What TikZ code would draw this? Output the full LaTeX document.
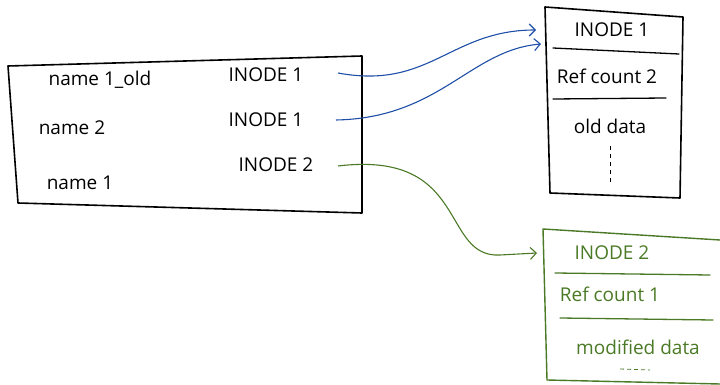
\documentclass[tikz,border=0pt]{standalone}
\usepackage{fontspec}
\setmainfont{Open Sans}
\usetikzlibrary{arrows.meta}
\definecolor{inkblue}{HTML}{1F4FA8}
\definecolor{inkgreen}{HTML}{4B7A26}
\tikzset{
  frame/.style={line width=1.6pt, line join=round, line cap=round},
  rule/.style={line width=1.3pt, line cap=round},
  lbl/.style={inner sep=0pt, font=\fontsize{19}{22}\selectfont},
  link/.style={line width=1.1pt, -{Straight Barb[length=6pt,width=12pt,line width=1.1pt]}},
}
\begin{document}
\begin{tikzpicture}[x=1pt,y=-1pt]
\useasboundingbox (0,0) rectangle (720,385);

% directory table
\draw[frame] (8,66) -- (362,56) -- (362,213) -- (18,203) -- cycle;
\node[lbl] (n1old) at (100,80) {name 1\_old};
\node[lbl] (n2) at (72,128) {name 2};
\node[lbl] (n1) at (80,183) {name 1};
\node[lbl] (i1a) at (266,75) {INODE 1};
\node[lbl] (i1b) at (266,120) {INODE 1};
\node[lbl] (i2) at (276,165) {INODE 2};
\coordinate (s1) at (338,73);
\coordinate (s2) at (336,120);
\coordinate (s3) at (338,166);

% inode 1
\draw[frame] (545,7) -- (683,17) -- (680,198) -- (550,193) -- cycle;
\draw[rule] (553,48) -- (679,54);
\draw[rule] (553,99) -- (666,98);
\node[lbl] (ina) at (612,30) {INODE 1};
\node[lbl] (rca) at (607,76) {Ref count 2};
\node[lbl] (oda) at (610,126) {old data};
\draw[line width=0.8pt, dash pattern=on 4pt off 4pt] (610,146) -- (610,182);
\coordinate (e1) at (536,30);
\coordinate (e2) at (541,44);

% inode 2
\begin{scope}[inkgreen]
\draw[line width=1.4pt, line cap=round] (720,240) -- (543,229) -- (547,380) -- (720,384);
\draw[rule] (555,273) -- (710,275);
\draw[rule] (560,318) -- (713,320);
\node[lbl] (inb) at (612,253) {INODE 2};
\node[lbl] (rcb) at (610,294) {Ref count 1};
\node[lbl] (mdb) at (638,347) {modified data};
\draw[line width=0.8pt, dash pattern=on 4pt off 3pt] (620,369) -- (650,370);
\coordinate (e3) at (537,253);
\end{scope}

% references
\draw[link, inkblue] (s1) .. controls (430,90) and (450,30) .. (e1);
\draw[link, inkblue] (s2) .. controls (440,118) and (470,50) .. (e2);
\draw[link, inkgreen] (s3) .. controls (470,150) and (440,258) .. (500,255) -- (e3);
\end{tikzpicture}
\end{document}
